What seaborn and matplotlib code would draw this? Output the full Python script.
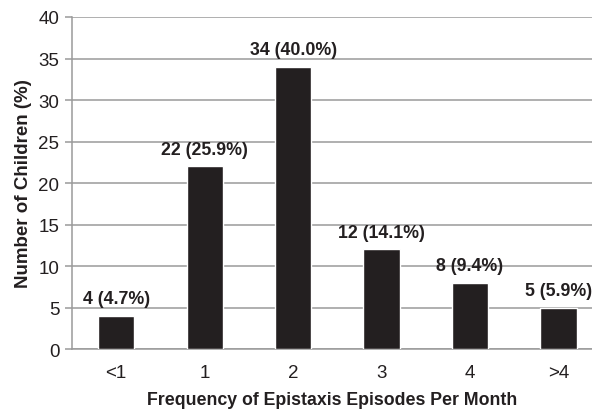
import matplotlib
matplotlib.use("Agg")
import matplotlib.pyplot as plt
import seaborn as sns
import pandas as pd

# data
categories = ["<1", "1", "2", "3", "4", ">4"]
counts = [4, 22, 34, 12, 8, 5]
percents = [4.7, 25.9, 40.0, 14.1, 9.4, 5.9]

sns.set_theme(style="white")
plt.rcParams["font.family"] = ["Liberation Sans", "DejaVu Sans"]

df = pd.DataFrame({"freq": categories, "n": counts})

fig = plt.figure(figsize=(5.92, 4.10), dpi=100)
ax = fig.add_axes([0.1216, 0.1463, 0.8784, 0.8098])

sns.barplot(data=df, x="freq", y="n", color="#231f20", saturation=1,
            width=0.41, ax=ax, zorder=3)

# labels on top of bars
for i, (c, p) in enumerate(zip(counts, percents)):
    ax.annotate(f"{c} ({p:.1f}%)", (i, c), xytext=(0, 6), textcoords="offset points",
                ha="center", va="bottom", fontsize=12.8, fontweight="bold", color="#231f20")

ax.set_ylim(0, 40)
ax.set_yticks(range(0, 41, 5))
ax.set_xlim(-0.5, 5.38)
ax.yaxis.grid(True, color="#9a9a9a", linewidth=1.1, zorder=0)
ax.set_axisbelow(True)

for s in ["top", "right"]:
    ax.spines[s].set_visible(False)
for s in ["left", "bottom"]:
    ax.spines[s].set_color("#9a9a9a")
    ax.spines[s].set_linewidth(1.1)

ax.tick_params(axis="y", left=True, length=5, width=1.1, color="#9a9a9a",
               labelsize=13.5, pad=4, labelcolor="#231f20")
ax.tick_params(axis="x", bottom=False, labelsize=13.5, pad=5, labelcolor="#231f20")

ax.set_xlabel("Frequency of Epistaxis Episodes Per Month", fontsize=12.8,
              fontweight="bold", color="#231f20", labelpad=7)
ax.set_ylabel("Number of Children (%)", fontsize=13.5, fontweight="bold",
              color="#231f20", labelpad=5)

fig.savefig("out.png", dpi=100)
